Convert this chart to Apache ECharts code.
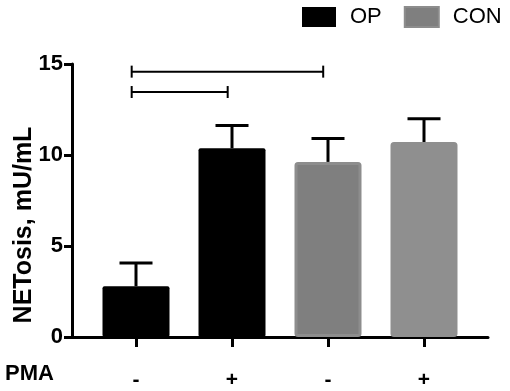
<!DOCTYPE html>
<html>
<head>
<meta charset="utf-8">
<script src="https://cdn.jsdelivr.net/npm/echarts@6/dist/echarts.min.js"></script>
<style>html,body{margin:0;padding:0;background:#fff}#c{width:510px;height:391px}</style>
</head>
<body>
<div id="c"></div>
<script>
// Data
var pmaLabels = ['-', '+', '-', '+'];
var positions = [1, 2, 3, 4];
var opValues = [2.79, 10.37];
var conValues = [9.62, 10.71];
var errors = [1.28, 1.25, 1.28, 1.28];
var yTicks = [0, 5, 10, 15];
// brackets: [fromPos, toPos, y]
var brackets = [[0.955, 2.95, 14.58], [0.955, 1.955, 13.46]];

var FONT = '"Liberation Sans", Arial, sans-serif';
var chart = echarts.init(document.getElementById('c'));

var allValues = opValues.concat(conValues);
var errData = positions.map(function (p, i) { return [p, allValues[i], allValues[i] + errors[i]]; });

chart.setOption({
  animation: false,
  grid: { left: 72, right: 22, top: 64, bottom: 51.5 },
  legend: {
    orient: 'horizontal', left: 302, top: 6, width: 400, padding: 0,
    itemWidth: 34, itemHeight: 20, itemGap: 22,
    icon: 'rect',
    textStyle: { fontFamily: FONT, fontSize: 22, color: '#000', padding: [0, 0, 0, 9] },
    data: ['OP', 'CON']
  },
  xAxis: {
    type: 'value', min: 1 / 3, max: 14 / 3,
    splitLine: { show: false },
    axisLine: { show: true, lineStyle: { color: '#000', width: 3 } },
    axisTick: { show: true, customValues: positions, length: 10, inside: false, lineStyle: { color: '#000', width: 3 } },
    axisLabel: {
      customValues: positions, margin: 33,
      fontFamily: FONT, fontSize: 21, fontWeight: 'bold', color: '#000',
      formatter: function (v) { var i = positions.indexOf(Math.round(v)); return i >= 0 ? pmaLabels[i] : ''; }
    }
  },
  yAxis: {
    type: 'value', min: 0, max: 15, interval: 5,
    splitLine: { show: false },
    axisLine: { show: true, lineStyle: { color: '#000', width: 3 } },
    axisTick: { show: true, length: 8, lineStyle: { color: '#000', width: 3 } },
    axisLabel: { margin: 9, fontFamily: FONT, fontSize: 22, fontWeight: 'bold', color: '#000' }
  },
  graphic: [
    { type: 'text', left: 5, top: 363, style: { text: 'PMA', fontFamily: FONT, fontSize: 22, fontWeight: 'bold', fill: '#000' } },
    { type: 'text', x: 24, y: 225, rotation: Math.PI / 2, style: { text: 'NETosis, mU/mL', fontFamily: FONT, fontSize: 25, fontWeight: 'bold', fill: '#000', align: 'center', verticalAlign: 'middle' } }
  ],
  series: [
    {
      name: 'OP', type: 'bar', barWidth: 67, barGap: '-100%',
      itemStyle: { color: '#000', borderRadius: 2 },
      data: opValues.map(function (v, i) { return [positions[i], v]; }),
      z: 2
    },
    {
      name: 'CON', type: 'bar', barWidth: 67, barGap: '-100%',
      itemStyle: { color: '#7f7f7f', borderColor: '#8d8d8d', borderWidth: 3, borderRadius: 2 },
      data: conValues.map(function (v, i) {
        var d = { value: [positions[i + 2], v] };
        if (i === 1) d.itemStyle = { color: '#8f8f8f', borderColor: '#8f8f8f' };
        return d;
      }),
      z: 2
    },
    {
      type: 'custom', z: 1, silent: true,
      renderItem: function (params, api) {
        var base = api.coord([api.value(0), api.value(1)]);
        var top = api.coord([api.value(0), api.value(2)]);
        var hw = 16.5;
        var st = { stroke: '#000', lineWidth: 3 };
        return { type: 'group', children: [
          { type: 'line', shape: { x1: base[0], y1: base[1], x2: top[0], y2: top[1] }, style: st },
          { type: 'line', shape: { x1: top[0] - hw, y1: top[1], x2: top[0] + hw, y2: top[1] }, style: st }
        ] };
      },
      data: errData
    },
    {
      type: 'custom', z: 3, silent: true,
      renderItem: function (params, api) {
        var a = api.coord([api.value(0), api.value(2)]);
        var b = api.coord([api.value(1), api.value(2)]);
        var h = 6;
        var st = { stroke: '#000', lineWidth: 2 };
        return { type: 'group', children: [
          { type: 'line', shape: { x1: a[0], y1: a[1], x2: b[0], y2: b[1] }, style: st },
          { type: 'line', shape: { x1: a[0], y1: a[1] - h, x2: a[0], y2: a[1] + h }, style: st },
          { type: 'line', shape: { x1: b[0], y1: b[1] - h, x2: b[0], y2: b[1] + h }, style: st }
        ] };
      },
      data: brackets
    }
  ]
});
</script>
</body>
</html>
